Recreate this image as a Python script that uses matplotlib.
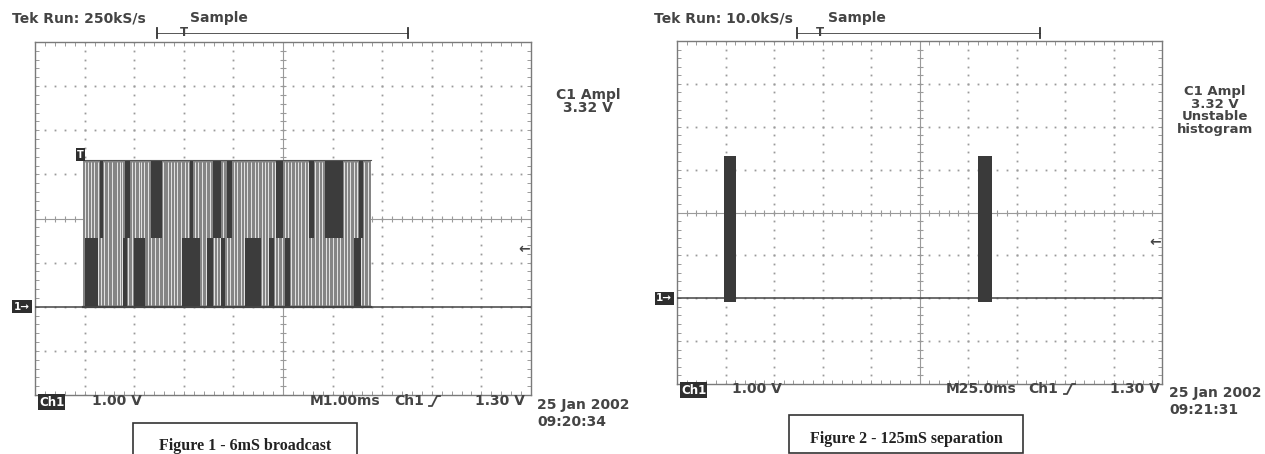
import matplotlib.pyplot as plt
from matplotlib.patches import Rectangle
from matplotlib.lines import Line2D
import matplotlib.transforms as mtransforms

W, H = 1265, 454

# ---- left capture: 1 ms/div, 1 V/div ----
left_burst = [0.97, 6.77]          # ms, start / end of the broadcast
# thin white gaps between the individual pulses (ms)
left_gaps = [1.00, 1.06, 1.12, 1.19, 1.27, 1.34, 1.40, 1.48, 1.56, 1.65,
             1.71, 1.75, 1.83, 1.88, 1.95, 2.02, 2.09, 2.14, 2.20, 2.28,
             2.34, 2.42, 2.50, 2.59, 2.68, 2.75, 2.80, 2.86, 2.95, 3.02,
             3.08, 3.15, 3.22, 3.29, 3.37, 3.45, 3.52, 3.60, 3.66, 3.72,
             3.80, 3.87, 3.94, 4.01, 4.08, 4.15, 4.21, 4.28, 4.36, 4.44,
             4.50, 4.58, 4.64, 4.70, 4.77, 4.84, 4.90, 4.97, 5.04, 5.10,
             5.17, 5.24, 5.30, 5.37, 5.44, 5.50, 5.57, 5.65, 5.72, 5.79,
             5.86, 5.93, 6.00, 6.08, 6.15, 6.22, 6.29, 6.36, 6.43, 6.50,
             6.58, 6.64, 6.71]
# dense (dark) stretches, upper and lower half of the trace (ms)
left_dark_upper = [(1.31, 1.37), (1.82, 1.92), (2.34, 2.57), (3.13, 3.19),
                   (3.58, 3.74), (3.88, 3.98), (4.85, 5.01), (5.52, 5.62),
                   (5.84, 6.20), (6.53, 6.61)]
left_dark_lower = [(1.01, 1.27), (1.78, 1.86), (2.00, 2.22), (2.97, 3.33),
                   (3.47, 3.58), (3.76, 3.84), (4.24, 4.55), (4.71, 4.81),
                   (5.05, 5.15), (6.44, 6.57)]

# ---- right capture: 25 ms/div ----
right_pulses = [(24.2, 30.6), (155.4, 162.2)]   # ms

# levels (V, screen centre = 0)
baseline = -2.0
high_level = 1.32
split_level = -0.45
trig_level = -0.70

gc = "#9a9a9a"
tc = "#444444"
tek_font = "DejaVu Sans"


def px(x, y):
    return x / W, 1 - y / H


def label(x, y, s, ha="left", size=10, **kw):
    fx, fy = px(x, y)
    fig.text(fx, fy, s, ha=ha, va="center", fontsize=size, color=tc,
             family=tek_font, fontweight="bold", **kw)


def graticule(ax, xmax):
    ax.set_xlim(0, xmax)
    ax.set_ylim(-4, 4)
    dx = xmax / 10
    xs = [i * dx / 5 for i in range(51)]
    ys = [-4 + i * 0.2 for i in range(41)]
    for k in range(1, 10):
        if k != 5:
            ax.plot([k * dx] * len(ys), ys, ls="none", marker="s", ms=1.3,
                    color=gc, mew=0)
    for k in (-3, -2, -1, 1, 2, 3):
        ax.plot(xs, [k] * len(xs), ls="none", marker="s", ms=1.3,
                color=gc, mew=0)
    ax.axvline(5 * dx, color=gc, lw=0.8)
    ax.axhline(0, color=gc, lw=0.8)
    ax.plot([5 * dx] * len(ys), ys, ls="none", marker="_", ms=5, color=gc, mew=0.8)
    ax.plot(xs, [0] * len(xs), ls="none", marker="|", ms=5, color=gc, mew=0.8)
    ax.set_xticks(xs)
    ax.set_yticks(ys)
    ax.tick_params(direction="in", length=3, width=0.7, color=gc,
                   top=True, right=True, labelbottom=False, labelleft=False)
    for sp in ax.spines.values():
        sp.set_color("#7a7a7a")
        sp.set_linewidth(1.0)


def marker_box(ax, s, x, y, size=7.5, **kw):
    ax.text(x, y, s, color="white", fontsize=size, fontweight="bold",
            family=tek_font, va="center", clip_on=False, zorder=8,
            bbox=dict(boxstyle="square,pad=0.15", fc="#2e2e2e", ec="none"), **kw)


fig = plt.figure(figsize=(W / 100, H / 100), dpi=100)

# ---------------- left scope ----------------
axl = fig.add_axes([35 / W, 1 - 395 / H, 496 / W, 353 / H])
graticule(axl, 10)
b0, b1 = left_burst
axl.add_patch(Rectangle((b0, baseline), b1 - b0, high_level - baseline,
                        fc="#858585", ec="none", zorder=3))
axl.vlines(left_gaps, baseline + 0.05, high_level - 0.05, color="#e4e4e4",
           lw=0.7, zorder=4)
for a, b in left_dark_upper:
    axl.add_patch(Rectangle((a, split_level), b - a, high_level - split_level,
                            fc="#3c3c3c", ec="none", zorder=5))
for a, b in left_dark_lower:
    axl.add_patch(Rectangle((a, baseline), b - a, split_level - baseline,
                            fc="#3c3c3c", ec="none", zorder=5))
axl.plot([b0, b1], [high_level, high_level], color="#555555", lw=0.8, zorder=6)
axl.plot([b0, b1], [baseline, baseline], color="#444444", lw=1.6, zorder=6)
axl.plot([0, b0], [baseline, baseline], color="#444444", lw=1.1, zorder=6)
axl.plot([b1, 10], [baseline, baseline], color="#444444", lw=1.1, zorder=6)

bl = mtransforms.blended_transform_factory(axl.transAxes, axl.transData)
marker_box(axl, "1\u2192", -0.01, baseline, ha="right", transform=bl)
marker_box(axl, "T", b0 - 0.05, high_level + 0.13, ha="center", size=7)
axl.text(0.998, trig_level, "\u2190", transform=bl, ha="right", va="center",
         fontsize=10, fontweight="bold", color=tc, zorder=7)

# ---------------- right scope ----------------
axr = fig.add_axes([677 / W, 1 - 384 / H, 485 / W, 343 / H])
graticule(axr, 250)
for a, b in right_pulses:
    axr.add_patch(Rectangle((a, baseline - 0.08), b - a,
                            high_level - baseline + 0.08,
                            fc="#3a3a3a", ec="none", zorder=5))
axr.plot([0, 250], [baseline, baseline], color="#444444", lw=1.1, zorder=4)
br = mtransforms.blended_transform_factory(axr.transAxes, axr.transData)
marker_box(axr, "1\u2192", -0.01, baseline, ha="right", transform=br)
axr.text(0.998, trig_level, "\u2190", transform=br, ha="right", va="center",
         fontsize=10, fontweight="bold", color=tc, zorder=7)


# ---------------- readouts ----------------
def bracket(x0, x1, xt, y):
    fx0, fy = px(x0, y)
    fx1, _ = px(x1, y)
    fig.add_artist(Line2D([fx0, fx1], [fy, fy], color="#555555", lw=0.7))
    for xe in (x0, x1):
        fx, _ = px(xe, y)
        fig.add_artist(Line2D([fx, fx], [fy - 5 / H, fy + 5 / H], color="#333333", lw=1.3))
    label(xt, y - 1, "T", ha="center", size=8.5)


def edge_symbol(x, y):
    xs = [x, x + 3, x + 8, x + 11]
    ys = [y + 5, y + 5, y - 5, y - 5]
    fig.add_artist(Line2D([v / W for v in xs], [1 - v / H for v in ys],
                          color=tc, lw=1.3))


def inv_label(x, y, s):
    fx, fy = px(x, y)
    fig.text(fx, fy, s, ha="left", va="center", fontsize=8.5, color="white",
             family=tek_font, fontweight="bold",
             bbox=dict(boxstyle="square,pad=0.1", fc="#2e2e2e", ec="none"))


# left readouts
label(12, 18, "Tek Run: 250kS/s")
label(190, 18, "Sample")
bracket(157, 408, 184, 33)
label(588, 95, "C1 Ampl", ha="center")
label(588, 108, "3.32 V", ha="center")
inv_label(39, 402, "Ch1")
label(92, 401, "1.00 V")
label(310, 401, "M1.00ms")
label(394, 401, "Ch1")
edge_symbol(429, 401)
label(475, 401, "1.30 V")
label(537, 405, "25 Jan 2002")
label(537, 422, "09:20:34")

# right readouts
label(654, 18, "Tek Run: 10.0kS/s")
label(828, 18, "Sample")
bracket(797, 1040, 820, 33)
label(1215, 92, "C1 Ampl", ha="center", size=9.5)
label(1215, 105, "3.32 V", ha="center", size=9.5)
label(1215, 117, "Unstable", ha="center", size=9.5)
label(1215, 130, "histogram", ha="center", size=9.5)
inv_label(681, 390, "Ch1")
label(732, 389, "1.00 V")
label(946, 389, "M25.0ms")
label(1028, 389, "Ch1")
edge_symbol(1064, 389)
label(1110, 389, "1.30 V")
label(1169, 393, "25 Jan 2002")
label(1169, 410, "09:21:31")

# figure captions
fig.add_artist(Rectangle(px(133, 456), 224 / W, 33 / H, transform=fig.transFigure,
                         fill=False, ec="#333333", lw=1.2, clip_on=False))
fig.text(*px(245, 446), "Figure 1 - 6mS broadcast", ha="center", va="center",
         family="Liberation Serif", fontweight="bold", fontsize=11.5, color="#222222")
fig.add_artist(Rectangle(px(789, 453), 234 / W, 38 / H, transform=fig.transFigure,
                         fill=False, ec="#333333", lw=1.2))
fig.text(*px(906, 439), "Figure 2 - 125mS separation", ha="center", va="center",
         family="Liberation Serif", fontweight="bold", fontsize=11.5, color="#222222")

fig.savefig("out.png", dpi=100)
